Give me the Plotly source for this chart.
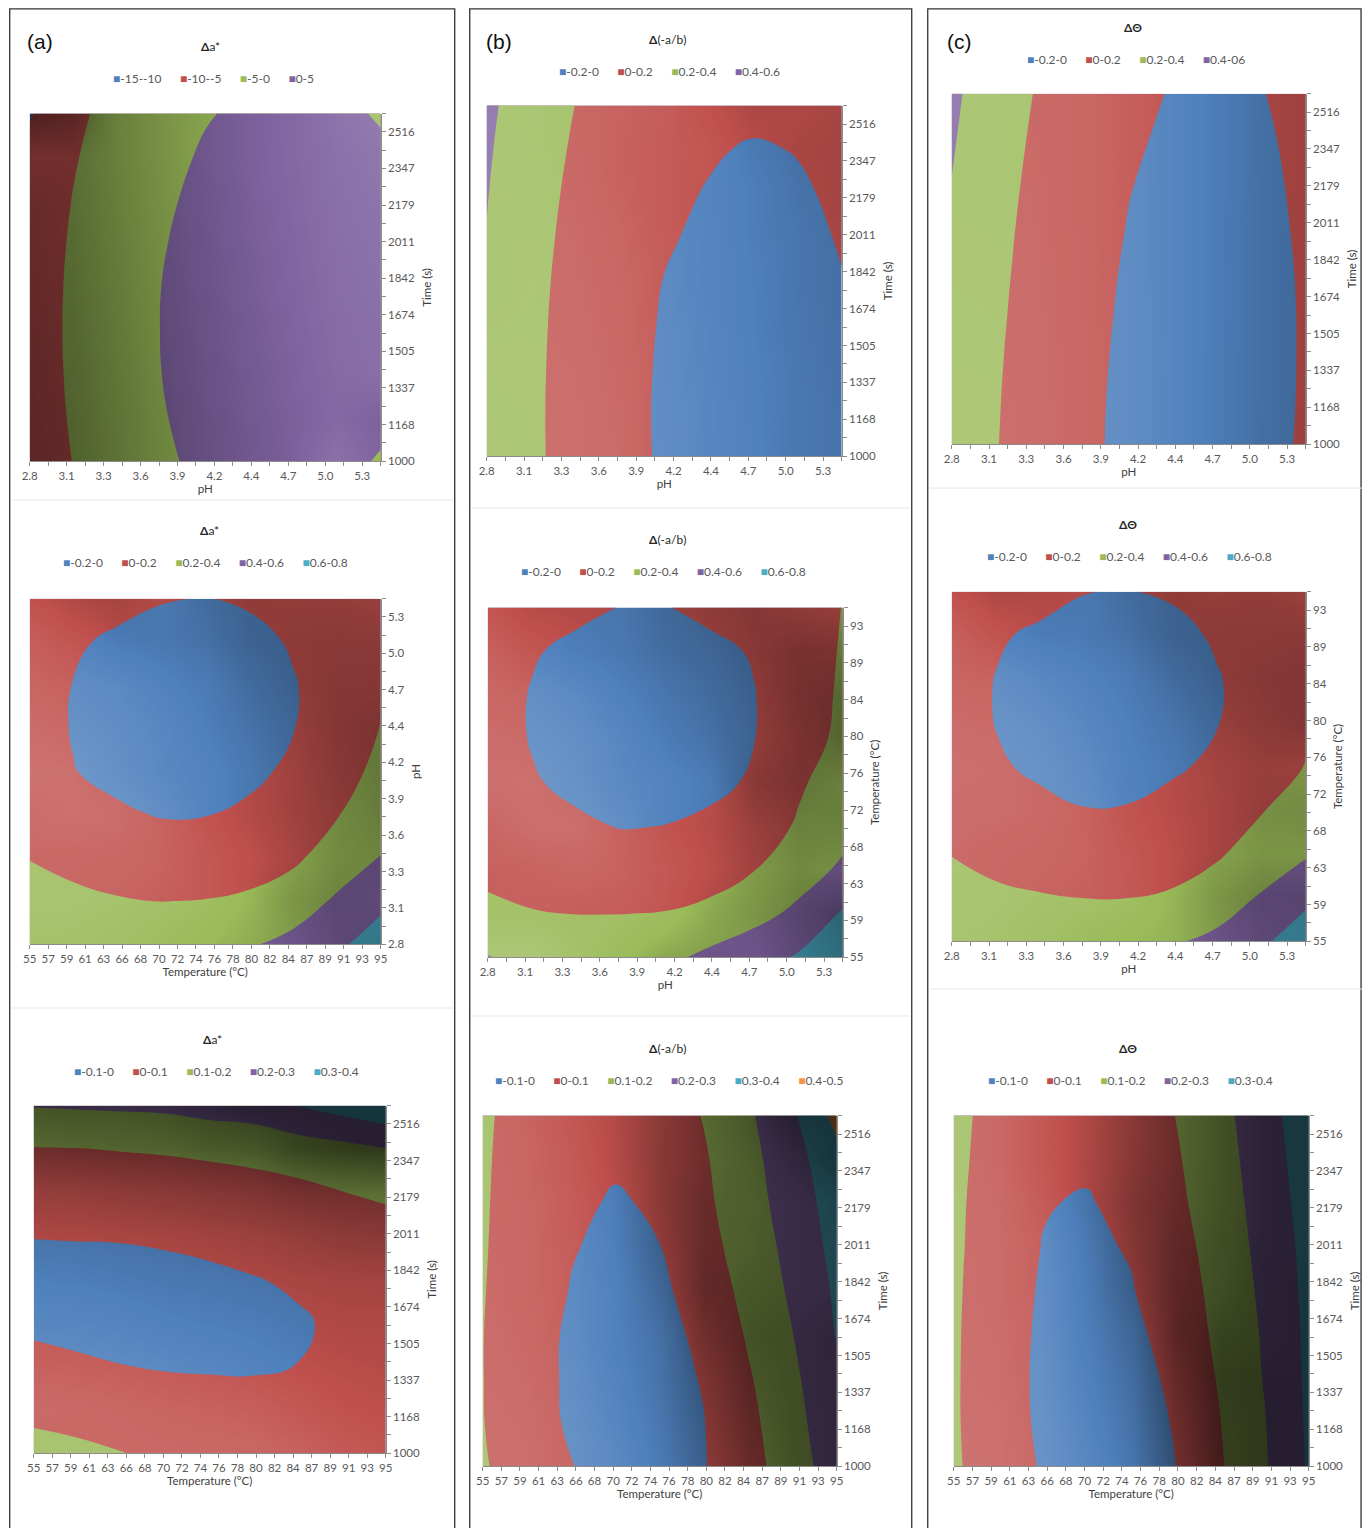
import numpy as np
import plotly.graph_objects as go

# ------------------------------------------------------------------ data
PH_LABELS = ["2.8", "3.1", "3.3", "3.6", "3.9", "4.2", "4.4", "4.7", "5.0", "5.3"]
TIME_LABELS = ["1000", "1168", "1337", "1505", "1674", "1842", "2011", "2179", "2347", "2516"]
TEMP_LABELS = ["55", "57", "59", "61", "63", "66", "68", "70", "72", "74",
               "76", "78", "80", "82", "84", "87", "89", "91", "93", "95"]

PH_NODES = [2.800, 3.130, 3.460, 3.790, 4.119, 4.449, 4.779, 5.109, 5.439]
TIME_NODES = [1000, 1200, 1400, 1600, 1800, 2000, 2200, 2400, 2600]
TEMP_NODES = [55, 60, 65, 70, 75, 80, 85, 90, 95]

TITLE_A = "<b>Δ</b>a*"
TITLE_B = "<b>Δ</b>(-a/b)"
TITLE_C = "<b>ΔΘ</b>"

LEG_A1 = ["-15--10", "-10--5", "-5-0", "0-5"]
LEG_B1 = ["-0.2-0", "0-0.2", "0.2-0.4", "0.4-0.6"]
LEG_C1 = ["-0.2-0", "0-0.2", "0.2-0.4", "0.4-06"]
LEG_A2 = ["-0.2-0", "0-0.2", "0.2-0.4", "0.4-0.6", "0.6-0.8"]
LEG_B2 = ["-0.2-0", "0-0.2", "0.2-0.4", "0.4-0.6", "0.6-0.8"]
LEG_C2 = ["-0.2-0", "0-0.2", "0.2-0.4", "0.4-0.6", "0.6-0.8"]
LEG_A3 = ["-0.1-0", "0-0.1", "0.1-0.2", "0.2-0.3", "0.3-0.4"]
LEG_B3 = ["-0.1-0", "0-0.1", "0.1-0.2", "0.2-0.3", "0.3-0.4", "0.4-0.5"]
LEG_C3 = ["-0.1-0", "0-0.1", "0.1-0.2", "0.2-0.3", "0.3-0.4"]

# contour levels (first boundary, last boundary, step)
LEV_A1 = (-10, 0, 5)
LEV_B1 = (0, 0.4, 0.2)
LEV_C1 = (0, 0.4, 0.2)
LEV_A2 = (0, 0.6, 0.2)
LEV_B2 = (0, 0.6, 0.2)
LEV_C2 = (0, 0.6, 0.2)
LEV_A3 = (0, 0.3, 0.1)
LEV_B3 = (0, 0.4, 0.1)
LEV_C3 = (0, 0.3, 0.1)

# response values, rows = y nodes (bottom -> top), columns = x nodes (left -> right)
Z_A1 = [  # x = pH, y = time
    [-7.83, -4.88, -2.46, -0.57, 0.80, 1.65, 1.97, 1.76, -0.50],
    [-7.48, -4.54, -2.12, -0.22, 1.15, 1.99, 2.31, 2.11, 1.37],
    [-7.27, -4.33, -1.91, -0.01, 1.36, 2.20, 2.52, 2.32, 1.58],
    [-7.20, -4.25, -1.83, 0.06, 1.43, 2.28, 2.60, 2.39, 1.66],
    [-7.26, -4.31, -1.89, 0.005, 1.37, 2.22, 2.53, 2.33, 1.60],
    [-7.46, -4.51, -2.09, -0.20, 1.17, 2.02, 2.34, 2.13, 1.40],
    [-7.79, -4.84, -2.42, -0.53, 0.84, 1.69, 2.01, 1.80, 1.07],
    [-8.26, -5.31, -2.89, -1.00, 0.38, 1.22, 1.54, 1.33, 0.60],
    [-10.40, -5.91, -3.49, -1.60, -0.23, 0.62, 0.94, 0.73, -0.30],
]
Z_B1 = [  # x = pH, y = time
    [0.354, 0.233, 0.133, 0.037, -0.014, -0.037, -0.051, -0.043, -0.015],
    [0.353, 0.232, 0.132, 0.036, -0.015, -0.038, -0.052, -0.044, -0.016],
    [0.354, 0.234, 0.134, 0.038, -0.013, -0.036, -0.050, -0.043, -0.014],
    [0.359, 0.238, 0.138, 0.043, -0.009, -0.032, -0.046, -0.039, -0.010],
    [0.375, 0.244, 0.145, 0.051, -0.002, -0.025, -0.039, -0.032, -0.003],
    [0.395, 0.254, 0.154, 0.062, 0.009, -0.016, -0.030, -0.022, 0.006],
    [0.407, 0.266, 0.166, 0.077, 0.023, -0.006, -0.020, -0.013, 0.018],
    [0.421, 0.280, 0.181, 0.103, 0.046, 0.011, -0.010, 0.004, 0.033],
    [0.438, 0.297, 0.198, 0.120, 0.063, 0.030, 0.030, 0.025, 0.050],
]
Z_C1 = [  # x = pH, y = time
    [0.337, 0.207, 0.103, 0.024, -0.029, -0.057, -0.059, -0.035, 0.014],
    [0.343, 0.212, 0.107, 0.027, -0.028, -0.056, -0.060, -0.037, 0.011],
    [0.351, 0.219, 0.112, 0.031, -0.024, -0.054, -0.059, -0.037, 0.010],
    [0.361, 0.228, 0.120, 0.037, -0.019, -0.050, -0.056, -0.036, 0.010],
    [0.372, 0.238, 0.129, 0.045, -0.013, -0.045, -0.052, -0.033, 0.012],
    [0.385, 0.249, 0.139, 0.055, -0.004, -0.038, -0.046, -0.028, 0.016],
    [0.398, 0.263, 0.151, 0.066, 0.005, -0.029, -0.038, -0.022, 0.021],
    [0.416, 0.278, 0.165, 0.078, 0.017, -0.019, -0.029, -0.014, 0.027],
    [0.434, 0.294, 0.181, 0.092, 0.030, -0.007, -0.018, -0.004, 0.036],
]
Z_A2 = [  # x = temperature, y = pH
    [0.33, 0.31, 0.30, 0.31, 0.34, 0.38, 0.46, 0.56, 0.70],
    [0.27, 0.235, 0.21, 0.198, 0.205, 0.225, 0.29, 0.43, 0.55],
    [0.195, 0.155, 0.13, 0.10, 0.10, 0.13, 0.17, 0.28, 0.405],
    [0.15, 0.09, 0.025, -0.01, -0.005, 0.03, 0.10, 0.19, 0.32],
    [0.10, 0.005, -0.045, -0.06, -0.055, -0.035, 0.03, 0.12, 0.25],
    [0.08, -0.01, -0.065, -0.095, -0.095, -0.065, -0.005, 0.08, 0.205],
    [0.08, -0.005, -0.06, -0.09, -0.10, -0.075, -0.01, 0.07, 0.17],
    [0.11, 0.03, -0.04, -0.06, -0.07, -0.045, 0.015, 0.08, 0.165],
    [0.15, 0.11, 0.07, 0.01, -0.005, 0.02, 0.06, 0.11, 0.17],
]
Z_B2 = [  # x = pH, y = temperature
    [0.41, 0.33, 0.30, 0.31, 0.35, 0.45, 0.52, 0.62, 0.78],
    [0.215, 0.205, 0.198, 0.198, 0.205, 0.235, 0.34, 0.44, 0.62],
    [0.185, 0.16, 0.14, 0.11, 0.115, 0.14, 0.195, 0.32, 0.43],
    [0.14, 0.10, 0.03, -0.008, 0.002, 0.035, 0.10, 0.22, 0.34],
    [0.10, 0.015, -0.04, -0.06, -0.05, -0.04, 0.02, 0.175, 0.29],
    [0.08, -0.01, -0.07, -0.10, -0.09, -0.055, -0.003, 0.10, 0.25],
    [0.08, -0.01, -0.07, -0.10, -0.095, -0.06, -0.005, 0.09, 0.23],
    [0.10, 0.015, -0.04, -0.07, -0.065, -0.03, 0.01, 0.10, 0.215],
    [0.14, 0.09, 0.04, -0.005, -0.005, 0.03, 0.08, 0.13, 0.203],
]
Z_C2 = [  # x = pH, y = temperature
    [0.34, 0.31, 0.30, 0.31, 0.35, 0.38, 0.45, 0.57, 0.70],
    [0.27, 0.23, 0.21, 0.198, 0.198, 0.22, 0.29, 0.42, 0.56],
    [0.195, 0.15, 0.13, 0.10, 0.10, 0.13, 0.18, 0.28, 0.38],
    [0.14, 0.08, 0.04, 0.005, 0.01, 0.05, 0.10, 0.19, 0.30],
    [0.10, 0.02, -0.03, -0.06, -0.055, -0.02, 0.03, 0.12, 0.205],
    [0.08, -0.005, -0.065, -0.095, -0.095, -0.065, -0.005, 0.08, 0.185],
    [0.08, -0.005, -0.06, -0.09, -0.10, -0.075, -0.01, 0.07, 0.17],
    [0.11, 0.02, -0.03, -0.06, -0.07, -0.045, 0.02, 0.08, 0.165],
    [0.15, 0.11, 0.06, 0.005, -0.005, 0.02, 0.06, 0.11, 0.17],
]
Z_A3 = [  # x = temperature, y = time
    [0.135, 0.125, 0.102, 0.085, 0.07, 0.055, 0.04, 0.035, 0.035],
    [0.075, 0.055, 0.04, 0.03, 0.022, 0.015, 0.012, 0.015, 0.022],
    [0.012, 0.006, 0.001, -0.004, -0.005, -0.004, 0.0005, 0.008, 0.018],
    [-0.008, -0.012, -0.016, -0.016, -0.014, -0.01, -0.005, 0.008, 0.02],
    [-0.012, -0.014, -0.015, -0.012, -0.008, -0.002, 0.006, 0.018, 0.03],
    [0.001, 0.002, 0.003, 0.006, 0.011, 0.02, 0.03, 0.045, 0.06],
    [0.035, 0.035, 0.038, 0.043, 0.05, 0.06, 0.075, 0.098, 0.115],
    [0.095, 0.098, 0.104, 0.11, 0.12, 0.132, 0.15, 0.17, 0.195],
    [0.205, 0.21, 0.215, 0.22, 0.24, 0.25, 0.302, 0.34, 0.38],
]
Z_B3 = [  # x = temperature, y = time
    [0.11, 0.045, 0.002, -0.025, -0.028, -0.005, 0.065, 0.15, 0.255],
    [0.103, 0.035, -0.01, -0.032, -0.03, -0.002, 0.075, 0.165, 0.27],
    [0.102, 0.032, -0.012, -0.032, -0.028, 0.005, 0.09, 0.18, 0.285],
    [0.102, 0.035, -0.012, -0.028, -0.022, 0.015, 0.11, 0.198, 0.305],
    [0.105, 0.04, -0.003, -0.022, -0.017, 0.04, 0.13, 0.215, 0.315],
    [0.108, 0.045, 0.004, -0.015, -0.001, 0.065, 0.145, 0.23, 0.33],
    [0.11, 0.05, 0.012, -0.006, 0.008, 0.08, 0.16, 0.245, 0.345],
    [0.112, 0.055, 0.02, 0.008, 0.03, 0.09, 0.17, 0.26, 0.37],
    [0.115, 0.06, 0.03, 0.02, 0.045, 0.105, 0.185, 0.285, 0.43],
]
Z_C3 = [  # x = temperature, y = time
    [0.115, 0.04, -0.006, -0.03, -0.026, -0.001, 0.09, 0.19, 0.31],
    [0.112, 0.035, -0.012, -0.033, -0.026, 0.004, 0.098, 0.195, 0.315],
    [0.112, 0.034, -0.014, -0.032, -0.022, 0.012, 0.11, 0.205, 0.318],
    [0.113, 0.036, -0.012, -0.028, -0.015, 0.025, 0.125, 0.21, 0.32],
    [0.115, 0.04, -0.008, -0.022, -0.005, 0.05, 0.13, 0.22, 0.325],
    [0.118, 0.045, -0.002, -0.015, 0.006, 0.065, 0.14, 0.23, 0.33],
    [0.12, 0.05, 0.004, -0.006, 0.022, 0.08, 0.15, 0.24, 0.34],
    [0.125, 0.055, 0.022, 0.012, 0.035, 0.09, 0.16, 0.25, 0.35],
    [0.13, 0.06, 0.03, 0.025, 0.045, 0.101, 0.17, 0.26, 0.36],
]

# ------------------------------------------------------------------ style
FW, FH = 1369, 1528
# horizontal placement correction (measured: rendered x = 8.3 + 0.989 * page x)
HX0, HXS = 8.3, 0.989
BAND_COLORS = ["#4F81BD", "#C0504D", "#9BBB59", "#8064A2", "#4BACC6", "#F79646"]
FONT = "Lato, 'Noto Sans', sans-serif"
TICK_COLOR = "#595959"
AXIS_COLOR = "#8c8c8c"

# light for the Excel-like 3-D surface shading
LIGHT = np.array([0.55, 0.35, 0.76])
LIGHT = LIGHT / np.linalg.norm(LIGHT)
SLOPE = 0.5
DARK_GAIN = 1.85
LIGHT_GAIN = 2.6
SHADE_CS = [[0.0, "rgba(255,255,255,0.42)"], [0.5, "rgba(255,255,255,0)"],
            [0.5, "rgba(0,0,0,0)"], [1.0, "rgba(0,0,0,0.7)"]]

# panel boxes in target pixels: (x0, x1, ytop, ybottom), title (x, y), legend (x, y)
PANELS = [
    dict(z=Z_A1, xk="ph", yk="time", lev=LEV_A1, leg=LEG_A1, title=TITLE_A,
         box=(30, 381, 114, 463), tpos=(211, 47), lpos=(214, 79)),
    dict(z=Z_B1, xk="ph", yk="time", lev=LEV_B1, leg=LEG_B1, title=TITLE_B,
         box=(487, 842, 106, 458), tpos=(668, 40), lpos=(670, 72)),
    dict(z=Z_C1, xk="ph", yk="time", lev=LEV_C1, leg=LEG_C1, title=TITLE_C,
         box=(952, 1306, 94, 446), tpos=(1133, 28), lpos=(1136, 60)),
    dict(z=Z_A2, xk="tempx", yk="ph", lev=LEV_A2, leg=LEG_A2, title=TITLE_A,
         box=(30, 381, 601, 948), tpos=(210, 533), lpos=(206, 565)),
    dict(z=Z_B2, xk="ph", yk="tempy", lev=LEV_B2, leg=LEG_B2, title=TITLE_B,
         box=(488, 843, 610, 961), tpos=(668, 542), lpos=(664, 574)),
    dict(z=Z_C2, xk="ph", yk="tempy", lev=LEV_C2, leg=LEG_C2, title=TITLE_C,
         box=(952, 1306, 594, 945), tpos=(1128, 527), lpos=(1130, 559)),
    dict(z=Z_A3, xk="tempx", yk="time", lev=LEV_A3, leg=LEG_A3, title=TITLE_A,
         box=(34, 386, 1110, 1459), tpos=(213, 1044), lpos=(217, 1076)),
    dict(z=Z_B3, xk="tempx", yk="time", lev=LEV_B3, leg=LEG_B3, title=TITLE_B,
         box=(483, 837, 1120, 1472), tpos=(668, 1053), lpos=(669, 1085)),
    dict(z=Z_C3, xk="tempx", yk="time", lev=LEV_C3, leg=LEG_C3, title=TITLE_C,
         box=(954, 1309, 1120, 1472), tpos=(1128, 1053), lpos=(1131, 1085)),
]


def px(x):
    return min(((x - HX0) / HXS) / FW, 1.0)


def py(y):
    return 1 - y / FH


def axis_ticks(kind):
    if kind == "ph":
        step = (float(PH_LABELS[-1]) - float(PH_LABELS[0])) / (len(PH_LABELS) - 1) / 2
        vals = [2.8 + k * step for k in range(20)]
        text = [PH_LABELS[k // 2] if k % 2 == 0 else "" for k in range(20)]
        return vals, text, [PH_NODES[0], PH_NODES[-1]], PH_NODES, "pH"
    if kind == "time":
        step = (TIME_NODES[-1] - TIME_NODES[0]) / 19
        vals = [TIME_NODES[0] + k * step for k in range(20)]
        text = [TIME_LABELS[k // 2] if k % 2 == 0 else "" for k in range(20)]
        return vals, text, [TIME_NODES[0], TIME_NODES[-1]], TIME_NODES, "Time (s)"
    step = (TEMP_NODES[-1] - TEMP_NODES[0]) / 19
    vals = [TEMP_NODES[0] + k * step for k in range(20)]
    if kind == "tempx":
        text = list(TEMP_LABELS)
    else:
        text = [TEMP_LABELS[k] if k % 2 == 0 else "" for k in range(20)]
    return vals, text, [TEMP_NODES[0], TEMP_NODES[-1]], TEMP_NODES, "Temperature (°C)"


def shade_grid(z, zr):
    """Lighting of the response surface (as Excel renders it), from its slopes."""
    a = np.asarray(z, dtype=float)
    dv, du = np.gradient(a, 1.0 / (a.shape[0] - 1), 1.0 / (a.shape[1] - 1))
    gx = SLOPE * du / zr
    gy = SLOPE * dv / zr
    lx, ly, lz = LIGHT
    b = (-gx * lx - gy * ly + lz) / np.sqrt(gx ** 2 + gy ** 2 + 1)
    d = b - lz
    out = np.where(d >= 0, np.clip(d * LIGHT_GAIN, 0, 1), np.clip(d * DARK_GAIN, -1, 0))
    return (-out).tolist()


def legend_text(labels, colors):
    parts = ['<span style="color:%s">■</span>%s' % (c, lab) for lab, c in zip(labels, colors)]
    return ("\u00a0" * 6).join(parts)


fig = go.Figure()
annotations = []
layout = {}

for i, p in enumerate(PANELS):
    n = i + 1
    xa = "x" if n == 1 else "x%d" % n
    ya = "y" if n == 1 else "y%d" % n
    xv, xt, xr, xnodes, xtitle = axis_ticks(p["xk"])
    yv, yt, yr, ynodes, ytitle = axis_ticks(p["yk"])
    start, end, size = p["lev"]
    nb = len(p["leg"])
    colors = BAND_COLORS[:nb]
    cscale = [[k / (nb - 1), c] for k, c in enumerate(colors)]

    # coloured bands
    fig.add_trace(go.Contour(
        x=xnodes, y=ynodes, z=p["z"], xaxis=xa, yaxis=ya,
        autocontour=False,
        contours=dict(start=start, end=end, size=size, coloring="fill", showlines=False),
        colorscale=cscale, showscale=False,
        line=dict(width=0, smoothing=1.3), hoverinfo="skip"))

    # surface lighting, drawn on top of the bands
    zr = (end - start) + 2 * size
    fig.add_trace(go.Contour(
        x=xnodes, y=ynodes, z=shade_grid(p["z"], zr), xaxis=xa, yaxis=ya,
        zauto=False, zmin=-1, zmax=1, colorscale=SHADE_CS,
        contours=dict(coloring="heatmap", showlines=False),
        line=dict(width=0), showscale=False, hoverinfo="skip"))

    x0, x1, yt0, yb0 = p["box"]
    common = dict(showgrid=False, zeroline=False, showline=True, linecolor=AXIS_COLOR,
                  linewidth=1, ticks="outside", ticklen=4, tickcolor=AXIS_COLOR,
                  tickmode="array", tickfont=dict(family=FONT, size=11.5, color=TICK_COLOR),
                  fixedrange=True)
    layout["xaxis" if n == 1 else "xaxis%d" % n] = dict(
        common, domain=[px(x0), px(x1)], anchor=ya, range=xr,
        tickvals=xv, ticktext=xt, tickangle=0,
        title=dict(text=xtitle, standoff=0, font=dict(family=FONT, size=11.5, color="#404040")))
    layout["yaxis" if n == 1 else "yaxis%d" % n] = dict(
        common, domain=[py(yb0), py(yt0)], anchor=xa, range=yr, side="right",
        tickvals=yv, ticktext=yt,
        title=dict(text=ytitle, standoff=8, font=dict(family=FONT, size=11.5, color="#404040")))

    annotations.append(dict(x=px(p["tpos"][0]), y=py(p["tpos"][1]), xref="paper", yref="paper",
                            text=p["title"], showarrow=False, xanchor="center", yanchor="middle",
                            font=dict(family=FONT, size=12, color="#262626")))
    annotations.append(dict(x=px(p["lpos"][0]), y=py(p["lpos"][1]), xref="paper", yref="paper",
                            text=legend_text(p["leg"], colors), showarrow=False,
                            xanchor="center", yanchor="middle",
                            font=dict(family=FONT, size=12, color=TICK_COLOR)))

for lab, xp in (("(a)", 25), ("(b)", 484), ("(c)", 945)):
    annotations.append(dict(x=px(xp), y=py(42), xref="paper", yref="paper", text=lab,
                            showarrow=False, xanchor="left", yanchor="middle",
                            font=dict(family="'Liberation Sans', Arial, sans-serif", size=21, color="#111111")))

shapes = []
for (a, b) in ((10, 455), (470, 912), (928, 1368)):
    shapes.append(dict(type="rect", xref="paper", yref="paper", x0=px(a), x1=min(px(b), 0.9993),
                       y0=-0.01, y1=py(9), line=dict(color="#333333", width=1.3),
                       fillcolor="rgba(0,0,0,0)", layer="above"))
for (a, b, yy) in ((12, 453, 502), (12, 453, 1012), (472, 910, 510), (472, 910, 1020),
                   (930, 1366, 490), (930, 1366, 993)):
    shapes.append(dict(type="line", xref="paper", yref="paper", x0=px(a), x1=px(b),
                       y0=py(yy), y1=py(yy), line=dict(color="#e6e6e6", width=1)))

fig.update_layout(width=FW, height=FH, margin=dict(l=0, r=0, t=0, b=0),
                  paper_bgcolor="white", plot_bgcolor="white", showlegend=False,
                  annotations=annotations, shapes=shapes, **layout)

fig.write_html("out.html", config={"displayModeBar": False},
               post_script="document.body.style.margin='0px';")
